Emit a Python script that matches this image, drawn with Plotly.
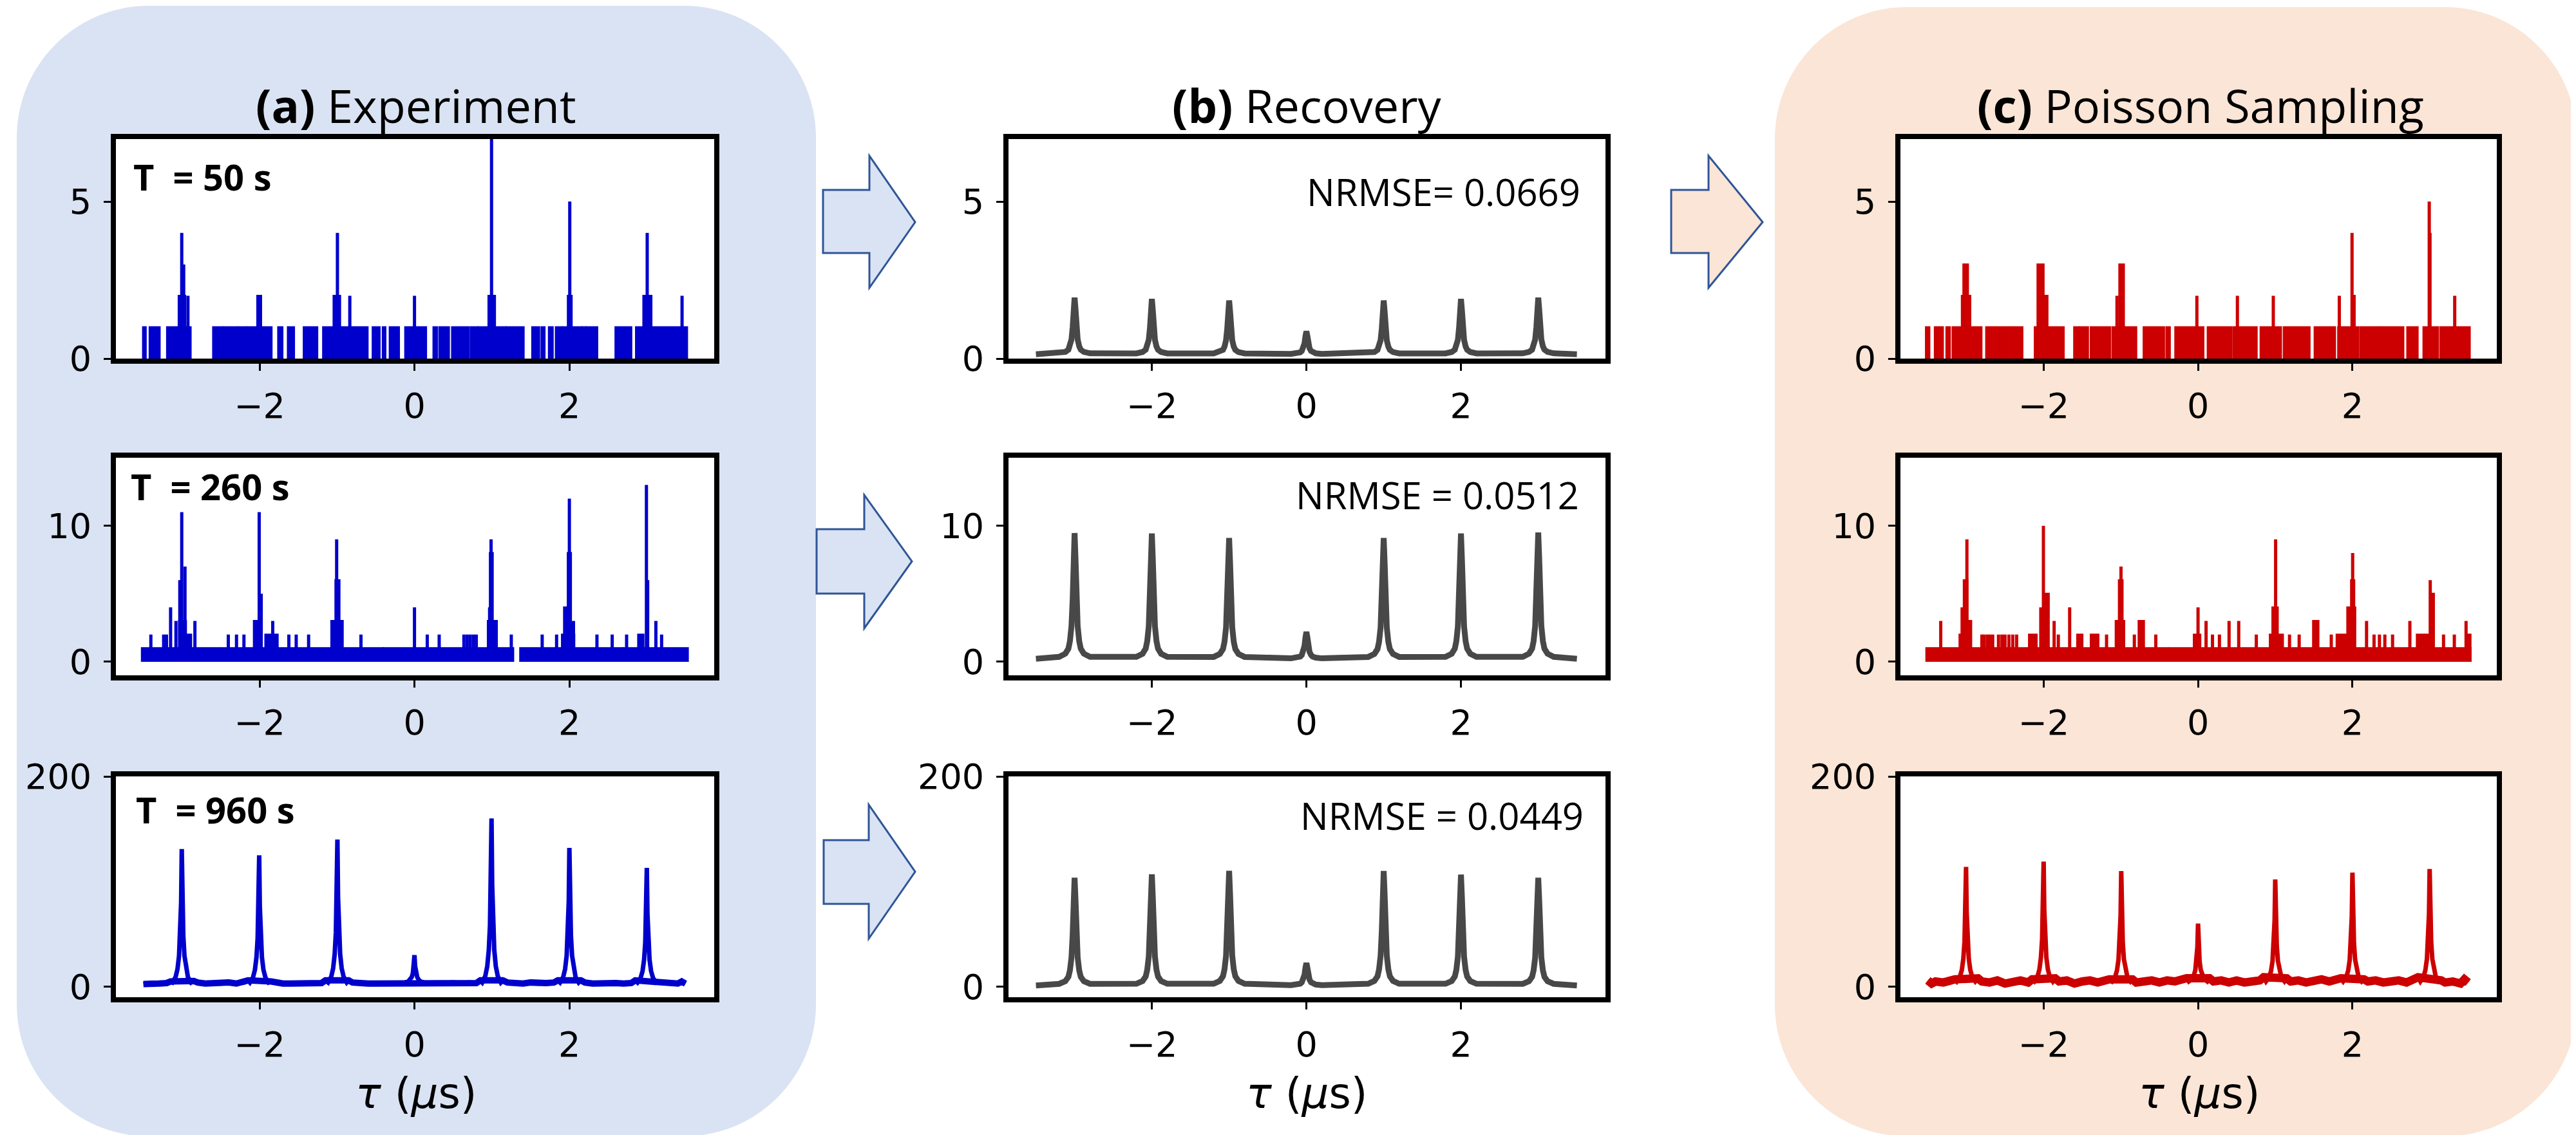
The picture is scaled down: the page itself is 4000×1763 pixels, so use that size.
import plotly.graph_objects as go

W, H = 4000, 1763

# ------------------------------------------------------------------ data
X_TICKS = [-2, 0, 2]
Y_TICKS = [[0, 5], [0, 10], [0, 200]]
Y_RANGES = [[0, 7], [-1, 15], [-10, 200]]
X_RANGE = [-3.855, 3.87]

T_LABELS = ["T\u00a0 = 50 s", "T\u00a0 = 260 s", "T\u00a0 = 960 s"]
NRMSE_LABELS = ["NRMSE= 0.0669", "NRMSE = 0.0512", "NRMSE = 0.0449"]
TITLES = ["<b>(a)</b> Experiment", "<b>(b)</b> Recovery", "<b>(c)</b> Poisson Sampling"]

# (a) Experiment, T = 50 s : dense count blocks (start, end, level) and single spikes (tau, counts)
a1_blocks = [
    (-3.505, -3.47, 1), (-3.42, -3.29, 1), (-3.195, -2.89, 1),
    (-2.60, -2.475, 1), (-2.46, -2.285, 1), (-2.27, -2.175, 1), (-2.16, -1.845, 1),
    (-1.76, -1.705, 1), (-1.635, -1.555, 1), (-1.43, -1.255, 1), (-1.18, -0.94, 1),
    (-0.92, -0.605, 1), (-0.54, -0.45, 1), (-0.41, -0.375, 1), (-0.32, -0.20, 1),
    (-0.12, 0.15, 1), (0.245, 0.29, 1), (0.32, 0.445, 1), (0.485, 0.70, 1),
    (0.725, 0.815, 1), (0.825, 1.18, 1), (1.19, 1.41, 1), (1.52, 1.61, 1),
    (1.64, 1.68, 1), (1.735, 1.785, 1), (1.825, 1.905, 1), (1.915, 2.16, 1),
    (2.17, 2.21, 1), (2.22, 2.36, 1), (2.595, 2.80, 1), (2.86, 3.52, 1),
    (-3.045, -2.96, 2), (-2.03, -1.98, 2), (-1.045, -0.96, 2), (0.955, 1.04, 2),
    (1.98, 2.03, 2), (2.955, 3.06, 2),
]
a1_spikes = [(-3.005, 4), (-2.98, 3), (-2.925, 2), (-0.995, 4), (-0.835, 2), (0.0, 2),
             (0.995, 8), (2.005, 5), (3.005, 4), (3.455, 2)]

# (a) Experiment, T = 260 s
a2_blocks = [
    (-3.52, -2.52, 1), (-2.50, -2.02, 1), (-2.00, -0.41, 1), (-0.398, 0.33, 1),
    (0.34, 1.275, 1), (1.365, 2.685, 1), (2.695, 3.53, 1),
    (-2.936, -2.883, 2), (-1.926, -1.766, 2), (1.904, 2.064, 2), (2.888, 2.957, 2),
    (-3.04, -2.95, 3), (-2.074, -2.032, 3), (-1.074, -0.926, 3), (0.947, 1.064, 3),
    (1.931, 1.979, 4), (-1.021, -0.968, 6), (0.973, 1.011, 8), (1.979, 2.021, 8),
]
a2_spikes = [
    (-3.005, 11), (-2.963, 7), (-3.03, 6), (-3.149, 4), (-3.08, 3), (-2.835, 3),
    (-3.404, 2), (-3.239, 2), (-3.202, 2),
    (-2.005, 11), (-1.979, 5), (-1.83, 3), (-2.404, 2), (-2.298, 2), (-2.202, 2),
    (-1.622, 2), (-1.527, 2), (-1.367, 2),
    (-1.005, 9), (-0.691, 2), (0.0, 4), (0.165, 2), (0.319, 2),
    (0.989, 9), (0.97, 4), (0.638, 2), (0.68, 2), (0.72, 2), (0.76, 2), (0.798, 2), (1.25, 2),
    (2.0, 12), (2.053, 3), (1.649, 2), (1.835, 2), (2.356, 2), (2.553, 2), (2.739, 2),
    (2.995, 13), (3.011, 6), (3.117, 3), (3.191, 2),
]

# (a) Experiment, T = 960 s : baseline samples and peak tops
a3_base = [(-3.5, 2.5), (-3.4, 3.5), (-3.3, 3), (-3.2, 3.5), (-3.15, 5),
           (-2.85, 5.5), (-2.8, 4), (-2.7, 3), (-2.6, 3.5), (-2.5, 3), (-2.4, 4), (-2.3, 3),
           (-2.2, 4), (-2.15, 6), (-1.85, 5), (-1.8, 4), (-1.7, 3), (-1.6, 3), (-1.5, 3.5),
           (-1.4, 3), (-1.3, 3), (-1.2, 3.5), (-1.15, 6), (-0.85, 6), (-0.8, 4), (-0.7, 3),
           (-0.6, 3), (-0.5, 3), (-0.4, 3), (-0.3, 3), (-0.2, 3.5), (-0.15, 4), (0.15, 3.5),
           (0.2, 3), (0.3, 3), (0.4, 3.5), (0.5, 4), (0.6, 3), (0.7, 4), (0.8, 3.5), (0.85, 6),
           (1.14, 6), (1.2, 4), (1.3, 3), (1.4, 3), (1.5, 4), (1.6, 3), (1.7, 3.5), (1.8, 4),
           (1.85, 6), (2.15, 6), (2.2, 4), (2.3, 3), (2.4, 3.5), (2.5, 3), (2.6, 3.5), (2.7, 3),
           (2.8, 3.5), (2.85, 6), (3.15, 5), (3.2, 3.5), (3.3, 3), (3.4, 3), (3.45, 5), (3.5, 3)]
a3_centers = [-3.005, -2.005, -0.995, 0.0, 0.995, 2.0, 3.0]
a3_heights = [131, 125, 140, 30, 160, 132, 113]
a3_level = 4

# (b) Recovery
b_centers = [-3, -2, -1, 0, 1, 2, 3]
b1_heights = [1.94, 1.90, 1.85, 0.87, 1.85, 1.90, 1.94]
b2_heights = [9.46, 9.43, 9.10, 2.20, 9.10, 9.43, 9.50]
b3_heights = [103.6, 106.8, 110.2, 22.5, 110.0, 106.6, 103.6]
b_baselines = [0.14, 0.22, 1.2]
b_ends = [-3.5, 3.5]
# peak profile (offset in us, fraction of peak height)
b_prof_off = [-0.2, -0.12, -0.08, -0.06, -0.04, -0.025, -0.012, 0, 0.012, 0.025, 0.04, 0.06, 0.08, 0.12, 0.2]
b_prof_frac = [0.015, 0.04, 0.08, 0.14, 0.26, 0.47, 0.8, 1, 0.8, 0.47, 0.26, 0.14, 0.08, 0.04, 0.015]

# (c) Poisson sampling, T = 50 s
c1_blocks = [
    (-3.525, -3.48, 1), (-3.41, -3.305, 1), (-3.26, -3.215, 1), (-3.18, -2.805, 1),
    (-2.745, -2.65, 1), (-2.63, -2.45, 1), (-2.43, -2.275, 1), (-2.115, -1.74, 1),
    (-1.605, -1.545, 1), (-1.53, -1.425, 1), (-1.39, -1.14, 1), (-1.11, -0.80, 1),
    (-0.705, -0.44, 1), (-0.41, -0.365, 1), (-0.295, -0.13, 1), (-0.105, 0.07, 1),
    (0.125, 0.435, 1), (0.46, 0.76, 1), (0.81, 1.075, 1), (1.11, 1.445, 1),
    (1.51, 1.775, 1), (1.815, 2.075, 1), (2.10, 2.35, 1), (2.37, 2.66, 1),
    (2.71, 2.845, 1), (2.92, 3.11, 1), (3.14, 3.52, 1),
    (-3.06, -2.95, 2), (-3.04, -2.98, 3), (-2.065, -1.95, 2), (-2.08, -2.0, 3),
    (-1.02, -0.96, 3), (1.99, 2.03, 2),
]
c1_spikes = [(-1.05, 2), (-0.015, 2), (0.51, 2), (0.975, 2), (1.83, 2), (1.995, 4),
             (2.995, 5), (3.005, 4), (3.325, 2)]

# (c) Poisson sampling, T = 260 s
c2_blocks = [
    (-3.52, -3.43, 1), (-3.41, -2.215, 1), (-2.195, -0.395, 1), (-0.38, 0.355, 1), (0.37, 3.53, 1),
    (-3.09, -3.04, 2), (-2.19, -2.09, 2), (-1.566, -1.497, 2), (-1.39, -1.29, 2), (-0.055, 0.03, 2),
    (0.93, 1.10, 2), (1.795, 1.968, 2), (2.834, 2.918, 2), (2.94, 2.99, 2), (3.49, 3.53, 2),
    (-2.973, -2.938, 3), (-1.067, -0.956, 3), (-0.77, -0.70, 3), (1.49, 1.56, 3),
    (0.963, 1.033, 4), (1.933, 2.037, 4),
    (-1.975, -1.933, 5), (3.02, 3.056, 5),
    (-3.035, -2.987, 6), (-1.026, -0.977, 6), (1.982, 2.024, 6),
]
c2_spikes = [
    (-2.80, 2), (-2.77, 2), (-2.73, 2), (-2.70, 2), (-2.66, 2), (-2.585, 2), (-2.54, 2), (-2.50, 2),
    (-2.45, 2), (-2.40, 2), (-2.35, 2), (-1.81, 2), (-1.185, 2), (-0.825, 2), (-0.547, 2),
    (0.187, 2), (0.277, 2), (0.755, 2), (1.185, 2), (1.31, 2), (1.726, 2), (1.83, 2),
    (2.28, 2), (2.35, 2), (2.42, 2), (2.52, 2), (3.18, 2), (3.32, 2),
    (-3.333, 3), (-1.864, 3), (0.104, 3), (0.402, 3), (0.527, 3), (2.183, 3), (2.744, 3), (3.472, 3),
    (-3.056, 4), (-2.037, 4), (-1.663, 4), (0.0, 4),
    (3.008, 6), (-0.998, 7), (2.003, 8), (-2.994, 9), (1.005, 9), (-2.003, 10),
]

# (c) Poisson sampling, T = 960 s
c3_base = [(-3.5, 6), (-3.45, 3), (-3.4, 5), (-3.3, 4), (-3.2, 6), (-3.15, 7),
           (-2.85, 8), (-2.8, 5), (-2.7, 4), (-2.6, 6), (-2.5, 3), (-2.4, 5), (-2.3, 6), (-2.2, 4),
           (-2.15, 7), (-1.85, 8), (-1.8, 5), (-1.7, 6), (-1.6, 3), (-1.5, 5), (-1.4, 6), (-1.3, 4),
           (-1.2, 5), (-1.15, 7), (-0.85, 7), (-0.8, 4), (-0.7, 5), (-0.6, 6), (-0.5, 4), (-0.4, 6),
           (-0.3, 5), (-0.2, 6), (-0.15, 8), (0.15, 8), (0.2, 5), (0.3, 6), (0.4, 4), (0.5, 6),
           (0.6, 4), (0.7, 5), (0.8, 6), (0.85, 9), (1.15, 8), (1.2, 5), (1.3, 6), (1.4, 4),
           (1.5, 6), (1.6, 7), (1.7, 5), (1.8, 6), (1.85, 8), (2.15, 7), (2.2, 5), (2.3, 6),
           (2.4, 4), (2.5, 5), (2.6, 6), (2.7, 4), (2.8, 6), (2.85, 9), (3.15, 6), (3.2, 4),
           (3.3, 5), (3.4, 3), (3.45, 7), (3.5, 4)]
c3_centers = [-3.005, -2.0, -0.995, 0.0, 1.0, 2.0, 3.0]
c3_heights = [114, 119, 110, 60, 102, 108.5, 112]
c3_level = 5

# sharp peak profile of the measured / sampled histograms
s_prof_off = [-0.12, -0.08, -0.055, -0.035, -0.02, -0.008, 0, 0.008, 0.02, 0.035, 0.055, 0.08, 0.12]
s_prof_frac = [0, 0.04, 0.1, 0.2, 0.35, 0.6, 1, 0.6, 0.35, 0.2, 0.1, 0.04, 0]

# ------------------------------------------------------------------ style
BLUE = "#0000CC"
RED = "#CC0000"
GRAY = "#484848"
BG_A = "#DAE3F3"
BG_C = "#FBE5D6"
ARROW_LINE = "#2F5597"

COL_DOM = [(172, 1101), (1558, 2485), (2943, 3869)]
ROW_DOM = [(207.5, 549), (703, 1041), (1198, 1541)]

fig = go.Figure()


def ax_name(k):
    return ("x", "y") if k == 1 else (f"x{k}", f"y{k}")


def add_counts(blocks, spikes, color, k):
    xa, ya = ax_name(k)
    bx, by = [], []
    for s, e, h in blocks:
        bx += [s, s, e, e, None]
        by += [0, h, h, 0, None]
    fig.add_trace(go.Scatter(x=bx, y=by, mode="lines", fill="toself", fillcolor=color,
                             line=dict(color=color, width=3), xaxis=xa, yaxis=ya,
                             hoverinfo="skip", showlegend=False))
    sx, sy = [], []
    for x, h in spikes:
        sx += [x, x, None]
        sy += [0, h, None]
    fig.add_trace(go.Scatter(x=sx, y=sy, mode="lines", line=dict(color=color, width=5),
                             xaxis=xa, yaxis=ya, hoverinfo="skip", showlegend=False))


def peak_points(base_pts, centers, heights, level, off, frac):
    pts = list(base_pts)
    for c, h in zip(centers, heights):
        for o, f in zip(off, frac):
            pts.append((c + o, level + f * (h - level)))
    pts.sort(key=lambda p: p[0])
    return [p[0] for p in pts], [p[1] for p in pts]


def add_peaks(base_pts, centers, heights, level, off, frac, color, k, base_width, width):
    xa, ya = ax_name(k)
    if base_width:
        fig.add_trace(go.Scatter(x=[p[0] for p in base_pts], y=[p[1] for p in base_pts],
                                 mode="lines", line=dict(color=color, width=base_width),
                                 xaxis=xa, yaxis=ya, hoverinfo="skip", showlegend=False))
    xs, ys = peak_points(base_pts, centers, heights, level, off, frac)
    fig.add_trace(go.Scatter(x=xs, y=ys, mode="lines", line=dict(color=color, width=width),
                             xaxis=xa, yaxis=ya, hoverinfo="skip", showlegend=False))


# column a
add_counts(a1_blocks, a1_spikes, BLUE, 1)
add_counts(a2_blocks, a2_spikes, BLUE, 4)
add_peaks(a3_base, a3_centers, a3_heights, a3_level, s_prof_off, s_prof_frac, BLUE, 7, 10, 7)
# column b
for r, hts in enumerate([b1_heights, b2_heights, b3_heights]):
    base = [(b_ends[0], b_baselines[r]), (b_ends[1], b_baselines[r])]
    add_peaks(base, b_centers, hts, b_baselines[r], b_prof_off, b_prof_frac, GRAY, 3 * r + 2, 0, 9)
# column c
add_counts(c1_blocks, c1_spikes, RED, 3)
add_counts(c2_blocks, c2_spikes, RED, 6)
add_peaks(c3_base, c3_centers, c3_heights, c3_level, s_prof_off, s_prof_frac, RED, 9, 13, 7)

# axes
axis_common = dict(showgrid=False, zeroline=False, showline=True, linewidth=8, linecolor="black",
                   mirror=True, ticks="outside", ticklen=11, tickwidth=3, tickcolor="black",
                   tickfont=dict(family="DejaVu Sans", size=54, color="black"),
                   ticklabelstandoff=8, fixedrange=True, automargin=False)
layout_axes = {}
for r in range(3):
    for c in range(3):
        k = 3 * r + c + 1
        sfx = "" if k == 1 else str(k)
        x0, x1 = COL_DOM[c]
        y0, y1 = ROW_DOM[r]
        layout_axes[f"xaxis{sfx}"] = dict(axis_common, domain=[x0 / W, x1 / W], range=X_RANGE,
                                          tickvals=X_TICKS, anchor=f"y{sfx}")
        layout_axes[f"yaxis{sfx}"] = dict(axis_common, domain=[1 - y1 / H, 1 - y0 / H],
                                          range=Y_RANGES[r], tickvals=Y_TICKS[r], anchor=f"x{sfx}")


def P(X, Y):
    return f"{X / W:.5f},{1 - Y / H:.5f}"


def rrect_path(x0, y0, x1, y1, r):
    k = 0.5523 * r
    return (f"M {P(x0 + r, y0)} L {P(x1 - r, y0)} "
            f"C {P(x1 - r + k, y0)} {P(x1, y0 + r - k)} {P(x1, y0 + r)} "
            f"L {P(x1, y1 - r)} C {P(x1, y1 - r + k)} {P(x1 - r + k, y1)} {P(x1 - r, y1)} "
            f"L {P(x0 + r, y1)} C {P(x0 + r - k, y1)} {P(x0, y1 - r + k)} {P(x0, y1 - r)} "
            f"L {P(x0, y0 + r)} C {P(x0, y0 + r - k)} {P(x0 + r - k, y0)} {P(x0 + r, y0)} Z")


def poly_path(pts):
    return "M " + " L ".join(P(x, y) for x, y in pts) + " Z"


shapes = [
    dict(type="path", path=rrect_path(18, 1, 1259, 1757, 205), xref="paper", yref="paper",
         fillcolor=BG_A, line=dict(width=0), layer="below"),
    dict(type="path", path=rrect_path(2748, 3, 3993, 1757, 205), xref="paper", yref="paper",
         fillcolor=BG_C, line=dict(width=0), layer="below"),
]
for c in range(3):
    for r in range(3):
        x0, x1 = COL_DOM[c]
        y0, y1 = ROW_DOM[r]
        shapes.append(dict(type="rect", xref="paper", yref="paper", x0=x0 / W, x1=x1 / W,
                           y0=1 - y1 / H, y1=1 - y0 / H, fillcolor="white",
                           line=dict(width=0), layer="below"))

arrows = [
    ([(1270, 287), (1342, 287), (1342, 234), (1413, 337), (1342, 439), (1342, 385), (1270, 385)], BG_A),
    ([(1260, 814), (1334, 814), (1334, 761), (1408, 864), (1334, 968), (1334, 914), (1260, 914)], BG_A),
    ([(1271, 1297), (1341, 1297), (1341, 1242), (1413, 1346), (1341, 1450), (1341, 1396), (1271, 1396)], BG_A),
    ([(2587, 287), (2645, 287), (2645, 234), (2729, 337), (2645, 439), (2645, 385), (2587, 385)], BG_C),
]
for pts, fc in arrows:
    shapes.append(dict(type="path", path=poly_path(pts), xref="paper", yref="paper",
                       fillcolor=fc, line=dict(color=ARROW_LINE, width=3), layer="above"))

annotations = []
title_x = [638, 2022, 3409]
for c in range(3):
    annotations.append(dict(text=TITLES[c], x=title_x[c] / W, y=1 - 155 / H, xref="paper", yref="paper",
                            xanchor="center", yanchor="middle", showarrow=False,
                            font=dict(family="Open Sans", size=72, color="black")))
label_x = [638, 2022, 3407]
for c in range(3):
    annotations.append(dict(text="<i>τ</i> (<i>μ</i>s)", x=label_x[c] / W, y=1 - 1690 / H,
                            xref="paper", yref="paper", xanchor="center", yanchor="middle",
                            showarrow=False, font=dict(family="DejaVu Sans", size=66, color="black")))
t_pos = [(197, 266), (193, 747), (201, 1249)]
for r in range(3):
    annotations.append(dict(text=f"<b>{T_LABELS[r]}</b>", x=t_pos[r][0] / W, y=1 - t_pos[r][1] / H,
                            xref="paper", yref="paper", xanchor="left", yanchor="middle",
                            showarrow=False, font=dict(family="Open Sans", size=56, color="black")))
n_pos = [(2448, 289), (2446, 760), (2453, 1258)]
for r in range(3):
    annotations.append(dict(text=NRMSE_LABELS[r], x=n_pos[r][0] / W, y=1 - n_pos[r][1] / H,
                            xref="paper", yref="paper", xanchor="right", yanchor="middle",
                            showarrow=False, font=dict(family="Open Sans", size=58, color="black")))

fig.update_layout(width=W, height=H,
                  margin=dict(l=0, r=0, t=0, b=0, pad=0, autoexpand=False),
                  paper_bgcolor="white", plot_bgcolor="rgba(0,0,0,0)", showlegend=False,
                  shapes=shapes, annotations=annotations, **layout_axes)

fig.write_html("out.html")
